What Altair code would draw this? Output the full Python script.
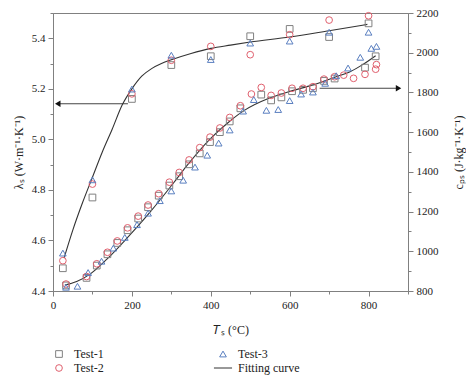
import altair as alt
import pandas as pd

# ---------------- data ----------------
# thermal conductivity (left axis)
T_lam = [25, 100, 200, 300, 400, 500, 600, 700, 800]
lam_test1 = [4.49, 4.77, 5.16, 5.294, 5.329, 5.408, 5.437, 5.405, 5.459]
lam_test2 = [4.52, 4.823, 5.18, 5.313, 5.368, 5.335, 5.414, 5.472, 5.489]
lam_test3 = [4.55, 4.84, 5.199, 5.333, 5.316, 5.381, 5.389, 5.424, 5.424]

T_lam_fit = [28, 50, 75, 100, 125, 150, 175, 200, 225, 250, 275, 300, 350, 400, 450, 500, 600, 700, 797]
lam_fit = [4.53, 4.64, 4.75, 4.85, 4.95, 5.04, 5.135, 5.20, 5.25, 5.28, 5.30, 5.315, 5.34, 5.36,
           5.373, 5.385, 5.405, 5.43, 5.455]

# specific heat capacity (right axis)
T_cp1 = [33, 85, 111, 138, 163, 189, 216, 241, 268, 295, 320, 345, 372, 398, 423, 448, 475,
         528, 553, 579, 606, 634, 659, 687, 714, 791, 818]
cp_test1 = [828, 866, 928, 985, 1042, 1106, 1165, 1222, 1280, 1331, 1378, 1438, 1493, 1550, 1600,
            1654, 1720, 1789, 1760, 1775, 1806, 1813, 1821, 1858, 1870, 1925, 1982]

T_cp2 = [33, 85, 111, 138, 163, 189, 216, 241, 268, 295, 320, 345, 372, 398, 423, 448, 475, 503,
         528, 553, 579, 606, 634, 659, 687, 714, 737, 762, 791, 818, 820]
cp_test2 = [835, 873, 937, 995, 1052, 1118, 1177, 1233, 1290, 1348, 1397, 1460, 1522, 1575, 1621,
            1674, 1733, 1792, 1825, 1785, 1797, 1821, 1821, 1829, 1867, 1879, 1887, 1871, 1891,
            1917, 1940]

T_cp3 = [33, 62, 89, 123, 153, 182, 213, 241, 271, 300, 330, 360, 391, 420, 448, 482, 509, 541,
         571, 600, 629, 659, 690, 718, 748, 779, 807, 820]
cp_test3 = [819, 824, 893, 950, 1016, 1070, 1134, 1192, 1255, 1304, 1358, 1424, 1484, 1545, 1611,
            1706, 1764, 1710, 1714, 1759, 1792, 1802, 1846, 1884, 1923, 1977, 2022, 2032]

T_cp_fit = [30, 60, 94, 136, 187, 246, 304, 339, 398, 448, 482, 549, 600, 659, 718, 752, 785, 818]
cp_fit = [830, 848, 885, 959, 1065, 1197, 1340, 1430, 1565, 1655, 1706, 1772, 1805, 1838, 1879,
          1903, 1940, 1985]

# arrows (tail, head) in data units
arrow_lam_T = [190, 12]
arrow_lam_value = 5.141
arrow_cp_T = [676, 876]
arrow_cp_value = 1821

series_names = ["Test-1", "Test-2", "Test-3", "Fitting curve"]
series_colors = ["#808080", "#e0606e", "#5a7fc0", "#333333"]
series_shapes = ["square", "circle", "triangle-up", "M-2.7,0L2.7,0"]

FONT = "Liberation Serif"
AX = "#808080"

# ---------------- tables ----------------
def long(T, vals, name):
    return pd.DataFrame({"T": T, "value": vals, "series": name})

lam_df = pd.concat([long(T_lam, lam_test1, "Test-1"),
                    long(T_lam, lam_test2, "Test-2"),
                    long(T_lam, lam_test3, "Test-3")])
cp_df = pd.concat([long(T_cp1, cp_test1, "Test-1"),
                   long(T_cp2, cp_test2, "Test-2"),
                   long(T_cp3, cp_test3, "Test-3")])
lam_fit_df = pd.DataFrame({"T": T_lam_fit, "value": lam_fit})
cp_fit_df = pd.DataFrame({"T": T_cp_fit, "value": cp_fit})
arrow_lam_df = pd.DataFrame({"T": arrow_lam_T, "value": [arrow_lam_value] * 2})
arrow_cp_df = pd.DataFrame({"T": arrow_cp_T, "value": [arrow_cp_value] * 2})
head_lam_df = arrow_lam_df.iloc[[1]]
head_cp_df = arrow_cp_df.iloc[[1]]

# ---------------- scales / axes ----------------
xscale = alt.Scale(domain=[0, 900], nice=False, zero=False)
lamscale = alt.Scale(domain=[4.4, 5.5], nice=False, zero=False)
cpscale = alt.Scale(domain=[800, 2200], nice=False, zero=False)

common_axis = dict(grid=False, domainColor=AX, tickColor=AX, labelFont=FONT, titleFont=FONT,
                   labelFontSize=11, titleFontSize=12, labelColor="#222", titleColor="#222",
                   titleFontWeight="normal", labelPadding=3, domainWidth=1, tickWidth=1)

xaxis = alt.Axis(values=list(range(0, 901, 100)),
                 labelExpr="datum.value % 200 === 0 ? datum.label : ''",
                 tickSize={"condition": {"test": "datum.value % 200 === 0", "value": 5}, "value": 3},
                 title="𝑇ₛ (°C)", titlePadding=14, labelFlush=False, **common_axis)

lam_axis = alt.Axis(values=[round(4.4 + 0.1 * i, 1) for i in range(12)],
                    labelExpr="round(datum.value*10) % 2 === 0 ? format(datum.value, '.1f') : ''",
                    tickSize={"condition": {"test": "round(datum.value*10) % 2 === 0", "value": 5},
                              "value": 3},
                    title="λₛ (W·m⁻¹·K⁻¹)", titlePadding=6, orient="left", **common_axis)

cp_axis = alt.Axis(values=list(range(800, 2201, 100)),
                   labelExpr="datum.value % 200 === 0 ? datum.label : ''",
                   tickSize={"condition": {"test": "datum.value % 200 === 0", "value": 5}, "value": 3},
                   title="cₚₛ (J·kg⁻¹·K⁻¹)", titlePadding=27, orient="right", titleAngle=270,
                   format="d", **common_axis)

color_scale = alt.Scale(domain=series_names, range=series_colors)
shape_scale = alt.Scale(domain=series_names, range=series_shapes)
legend = alt.Legend(orient="none", legendX=0, legendY=335, columns=2, columnPadding=107,
                    rowPadding=2, symbolSize=45, symbolStrokeWidth=1, labelFont=FONT,
                    labelFontSize=12, labelColor="#222", labelOffset=9, title=None, padding=0)

X = alt.X("T:Q", scale=xscale, axis=xaxis)

def pts(df, yscale, yaxis):
    return alt.Chart(df).mark_point(filled=False, size=45, strokeWidth=1, opacity=1).encode(
        x=X,
        y=alt.Y("value:Q", scale=yscale, axis=yaxis),
        color=alt.Color("series:N", scale=color_scale, legend=legend),
        shape=alt.Shape("series:N", scale=shape_scale, legend=legend),
    )

def fit(df, yscale, yaxis):
    return alt.Chart(df).mark_line(interpolate="monotone", strokeWidth=1.1, color="#333333").encode(
        x=X, y=alt.Y("value:Q", scale=yscale, axis=yaxis))

def arrow(df, head, yscale, yaxis, shape):
    line = alt.Chart(df).mark_line(strokeWidth=1.1, color="#444444").encode(
        x=X, y=alt.Y("value:Q", scale=yscale, axis=yaxis))
    tip = alt.Chart(head).mark_point(shape=shape, filled=True, size=40, color="#111111",
                                     opacity=1).encode(
        x=X, y=alt.Y("value:Q", scale=yscale, axis=yaxis))
    return line + tip

left = alt.layer(arrow(arrow_lam_df, head_lam_df, lamscale, lam_axis, "triangle-left"),
                 fit(lam_fit_df, lamscale, lam_axis),
                 pts(lam_df, lamscale, lam_axis))
right = alt.layer(arrow(arrow_cp_df, head_cp_df, cpscale, cp_axis, "triangle-right"),
                  fit(cp_fit_df, cpscale, cp_axis),
                  pts(cp_df, cpscale, cp_axis))

chart = alt.layer(left, right).resolve_scale(y="independent").properties(
    width=355, height=278,
    autosize=alt.AutoSizeParams(type="none"),
    padding={"left": 45, "top": 5, "right": 58, "bottom": 84},
).configure_view(stroke=AX, strokeWidth=1)

chart.save("out.html", embed_options={"renderer": "svg", "actions": False})
